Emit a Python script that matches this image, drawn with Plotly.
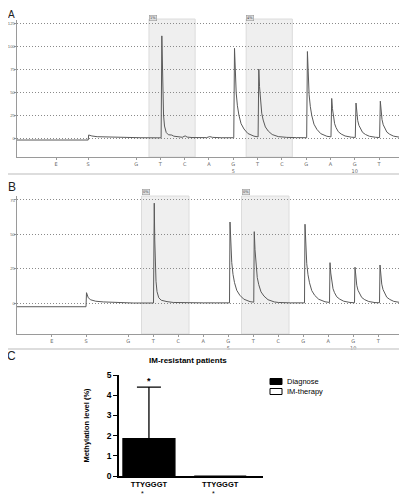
import plotly.graph_objects as go

# ---------------- Panel A pyrogram (dispensation units vs signal) ----------------
a_x = [-3.90, -0.97, -0.95, -0.82, -0.6, -0.2, 0.5, 1.2, 1.9,
       2.03, 2.06, 2.08, 2.10, 2.13, 2.17, 2.24, 2.33, 2.47, 2.55, 2.7, 2.9, 3.02, 3.1, 3.3, 3.9, 4.03, 4.15, 4.5, 5.02,
       5.05, 5.08, 5.12, 5.17, 5.23, 5.32, 5.44, 5.6, 5.85, 6.02,
       6.05, 6.08, 6.12, 6.17, 6.23, 6.32, 6.44, 6.6, 6.85, 7.05, 7.2, 7.6, 8.02,
       8.05, 8.08, 8.12, 8.17, 8.23, 8.32, 8.44, 8.6, 8.85, 9.02,
       9.05, 9.08, 9.12, 9.17, 9.23, 9.32, 9.44, 9.6, 9.85, 10.02,
       10.05, 10.08, 10.12, 10.17, 10.23, 10.32, 10.44, 10.6, 10.85, 11.02,
       11.05, 11.08, 11.12, 11.17, 11.23, 11.32, 11.44, 11.6, 11.86]
a_y = [-2.2, -2.2, 3.3, 2.2, 1.4, 1.0, 0.6, 0.3, 0.2,
       0.2, 111, 70, 42, 25, 13, 6, 3.5, 3.2, 2.0, 1.2, 0.8, 2.3, 1.0, 0.5, 0.4, 1.5, 0.7, 0.3, 0.3,
       97.5, 73, 49, 35, 25, 15.6, 9.8, 4.9, 2.0, 1.2,
       75, 56, 37.5, 27, 19.5, 12, 7.5, 3.8, 1.5, 1.5, 0.7, 0.4, 0.3,
       94, 70, 47, 34, 24.4, 15, 9.4, 4.7, 1.9, 1.2,
       43, 32, 21.5, 15.5, 11.2, 6.9, 4.3, 2.2, 0.9, 0.6,
       38, 28.5, 19, 13.7, 9.9, 6.1, 3.8, 1.9, 0.8, 0.5,
       40, 30, 20, 14.4, 10.4, 6.4, 4.0, 2.0, 0.8]

# ---------------- Panel B pyrogram ----------------
b_x = [-3.45, -0.69, -0.67, -0.6, -0.5, -0.3, 0.0, 0.5, 1.2, 2.01,
       2.04, 2.06, 2.08, 2.11, 2.15, 2.22, 2.32, 2.47, 2.55, 2.8, 3.0, 3.3, 4.0, 4.5, 5.05,
       5.07, 5.10, 5.14, 5.19, 5.25, 5.34, 5.46, 5.62, 5.87, 6.02,
       6.04, 6.07, 6.11, 6.16, 6.22, 6.31, 6.43, 6.59, 6.84, 7.0, 7.5, 8.05,
       8.07, 8.10, 8.14, 8.19, 8.25, 8.34, 8.46, 8.62, 8.87, 9.05,
       9.07, 9.10, 9.14, 9.19, 9.25, 9.34, 9.46, 9.62, 9.87, 10.05,
       10.07, 10.10, 10.14, 10.19, 10.25, 10.34, 10.46, 10.62, 10.87, 11.05,
       11.07, 11.10, 11.14, 11.19, 11.25, 11.34, 11.46, 11.62, 11.87]
b_y = [-2.5, -2.5, 7.7, 4.0, 2.5, 1.5, 1.0, 0.5, 0.2, 0.2,
       72.7, 46, 27.5, 16, 8.5, 4.0, 2.2, 1.9, 1.2, 0.6, 0.5, 0.3, 0.3, 0.3, 0.3,
       59, 44, 29.5, 21, 15, 9.4, 5.9, 3.0, 1.2, 0.8,
       52, 39, 26, 18.7, 13.5, 8.3, 5.2, 2.6, 1.0, 0.6, 0.3, 0.3,
       57.4, 43, 28.7, 20.7, 14.9, 9.2, 5.7, 2.9, 1.1, 0.6,
       29.5, 22, 14.8, 10.6, 7.7, 4.7, 3.0, 1.5, 0.6, 0.4,
       26.2, 19.7, 13.1, 9.4, 6.8, 4.2, 2.6, 1.3, 0.5, 0.4,
       27.8, 20.9, 13.9, 10.0, 7.2, 4.4, 2.8, 1.4, 0.6]

# dispensation order tick labels
disp_labels = ["E", "S", "G", "T", "C", "A", "G<br>5", "T", "C", "G", "A", "G<br>10", "T"]
a_tickvals = [-2.29, -0.97, 1, 2, 3, 4, 5, 6, 7, 8, 9, 10, 11]
b_tickvals = [-2.06, -0.69, 1, 2, 3, 4, 5, 6, 7, 8, 9, 10, 11]
a_yticks = [0, 25, 50, 75, 100, 125]
b_yticks = [0, 25, 50, 75]
shade_ranges = [(1.53, 3.43), (5.53, 7.43)]
a_shade_labels = ["1%", "4%"]
b_shade_labels = ["0%", "0%"]

# ---------------- Panel C bar chart ----------------
c_categories = ["TTYGGGT", "TTYGGGT"]
c_series = ["Diagnose", "IM-therapy"]
c_values = [1.85, 0.0]
c_err_up = [2.55, 0.0]
c_yticks = [0, 1, 2, 3, 4, 5]

W, H = 407, 500
OFF = 8  # page offset of the figure (body margin)
def px(x): return (x - OFF) / W
def py(y): return 1 - (y - OFF) / H

fig = go.Figure()
line_col = "#5a5a5a"
fig.add_trace(go.Scatter(x=a_x, y=a_y, mode="lines", line=dict(color=line_col, width=1),
                         xaxis="x", yaxis="y", showlegend=False, hoverinfo="skip"))
fig.add_trace(go.Scatter(x=b_x, y=b_y, mode="lines", line=dict(color=line_col, width=1),
                         xaxis="x2", yaxis="y2", showlegend=False, hoverinfo="skip"))

fills = ["#000000", "#ffffff"]
for i, name in enumerate(c_series):
    fig.add_trace(go.Bar(x=[i], y=[c_values[i]], name=name, width=0.73,
                         marker=dict(color=fills[i], line=dict(color="#000", width=1.2)),
                         error_y=dict(type="data", symmetric=False, array=[c_err_up[i]],
                                      arrayminus=[0], color="#000", thickness=1.3, width=12,
                                      visible=c_err_up[i] > 0),
                         xaxis="x3", yaxis="y3", showlegend=False, hoverinfo="skip"))

tickfont_small = dict(family="Liberation Sans Narrow, Arial Narrow, Liberation Sans", size=4.3, color="#666")
axis_gray = "#9a9a9a"
common_x = dict(showgrid=False, zeroline=False, showline=True, linecolor=axis_gray, linewidth=1.3,
                tickmode="array", ticktext=disp_labels, ticks="outside", ticklen=2, automargin=False,
                tickcolor=axis_gray, tickfont=dict(family="DejaVu Sans", size=5, color="#666"))
common_y = dict(showgrid=True, gridcolor="#8a8a8a", griddash="1px,2px", gridwidth=1, zeroline=False,
                showline=True, linecolor=axis_gray, linewidth=1.3, ticks="outside", ticklen=2,
                ticklabelstandoff=-2, automargin=False, tickcolor=axis_gray, tickmode="array",
                tickfont=tickfont_small)

bold = "Liberation Sans"
AX0 = 17  # left edge of pyrogram axes on the page
a_x0 = a_x[0]
b_x0 = b_x[0]
fig.update_layout(
    width=W, height=H, margin=dict(l=0, r=0, t=0, b=0, pad=0, autoexpand=False),
    paper_bgcolor="white", plot_bgcolor="rgba(0,0,0,0)", barmode="overlay",
    xaxis=dict(domain=[px(AX0), px(400)], range=[a_x0, 11.86], anchor="y", tickvals=a_tickvals, **common_x),
    yaxis=dict(domain=[py(157), py(20)], range=[-20.65, 128.26], anchor="x", tickvals=a_yticks, **common_y),
    xaxis2=dict(domain=[px(AX0), px(400)], range=[b_x0, 11.87], anchor="y2", tickvals=b_tickvals, **common_x),
    yaxis2=dict(domain=[py(334), py(196)], range=[-22.3, 77.9], anchor="x2", tickvals=b_yticks, **common_y),
    xaxis3=dict(domain=[px(119), px(263)], range=[-0.42, 1.6], anchor="y3", showgrid=False, zeroline=False,
                showline=True, linecolor="#000", linewidth=1.5, tickmode="array", tickvals=[0, 1],
                ticktext=["<b>%s</b>" % c for c in c_categories], ticks="", automargin=False,
                tickfont=dict(family=bold, size=7.5, color="#000")),
    yaxis3=dict(domain=[py(476), py(375)], range=[0, 5], anchor="x3", showgrid=False, zeroline=False,
                showline=True, linecolor="#000", linewidth=1.5, tickmode="array", tickvals=c_yticks,
                ticktext=["<b>%d</b>" % v for v in c_yticks], ticks="outside", ticklen=4, tickwidth=1.3,
                automargin=False, tickcolor="#000", tickfont=dict(family=bold, size=8.5, color="#000"),
                title=dict(text="<b>Methylation level (%)</b>", font=dict(family=bold, size=7.5, color="#000"),
                           standoff=16)),
)

shapes = []
annotations = []
# shading regions
for (x0, x1), lab in zip(shade_ranges, a_shade_labels):
    shapes.append(dict(type="rect", xref="x", yref="paper", x0=x0, x1=x1, y0=py(157), y1=py(19),
                       fillcolor="#efefef", line=dict(color="#dcdcdc", width=1), layer="below"))
    annotations.append(dict(xref="x", yref="paper", x=x0 + 0.17, y=py(15), text=lab, showarrow=False,
                            font=dict(family="DejaVu Sans", size=3.5, color="#444"),
                            bgcolor="#dedede", bordercolor="#999", borderwidth=0.6, borderpad=0.5))
for (x0, x1), lab in zip(shade_ranges, b_shade_labels):
    shapes.append(dict(type="rect", xref="x2", yref="paper", x0=x0, x1=x1, y0=py(334), y1=py(196),
                       fillcolor="#efefef", line=dict(color="#dcdcdc", width=1), layer="below"))
    annotations.append(dict(xref="x2", yref="paper", x=x0 + 0.17, y=py(192), text=lab, showarrow=False,
                            font=dict(family="DejaVu Sans", size=3.5, color="#444"),
                            bgcolor="#dedede", bordercolor="#999", borderwidth=0.6, borderpad=0.5))
# separators
for yy in (174, 349):
    shapes.append(dict(type="line", xref="paper", yref="paper", x0=0, x1=1, y0=py(yy), y1=py(yy),
                       line=dict(color="#d2d2d2", width=1.5)))
# panel letters
annotations.append(dict(xref="paper", yref="paper", x=px(11.5), y=py(8.3), text="A", showarrow=False,
                        font=dict(family="Liberation Sans", size=10, color="#222"), borderpad=0,
                        xanchor="center", yanchor="top"))
for lab, xx, yy in (("B", 11.5, 186.5), ("C", 11.5, 356)):
    annotations.append(dict(xref="paper", yref="paper", x=px(xx), y=py(yy), text=lab, showarrow=False,
                            font=dict(family="Liberation Sans", size=12, color="#222"),
                            xanchor="center", yanchor="middle"))
# panel C title
annotations.append(dict(xref="paper", yref="paper", x=px(188), y=py(360), text="<b>IM-resistant patients</b>",
                        showarrow=False, font=dict(family=bold, size=8, color="#000"),
                        xanchor="center", yanchor="middle"))
# significance asterisk above bar
annotations.append(dict(xref="x3", yref="y3", x=0, y=4.72, text="<b>*</b>", showarrow=False,
                        font=dict(family=bold, size=9, color="#000"), yanchor="middle"))
# asterisks under the CpG position (Y)
for i in range(2):
    annotations.append(dict(xref="x3", yref="paper", x=i - 0.09, y=py(493), text="*", showarrow=False,
                            font=dict(family=bold, size=7, color="#000"), yanchor="middle"))
# manual legend
leg_rows = [(381.5, fills[0]), (391.5, fills[1])]
for (yy, col), name in zip(leg_rows, c_series):
    shapes.append(dict(type="rect", xref="paper", yref="paper", x0=px(270), x1=px(282),
                       y0=py(yy + 3), y1=py(yy - 3), fillcolor=col, line=dict(color="#000", width=1)))
    annotations.append(dict(xref="paper", yref="paper", x=px(285), y=py(yy), text=name, showarrow=False,
                            font=dict(family="Liberation Sans", size=7.5, color="#000"),
                            xanchor="left", yanchor="middle"))

fig.update_layout(shapes=shapes, annotations=annotations)
fig.write_html("out.html")
